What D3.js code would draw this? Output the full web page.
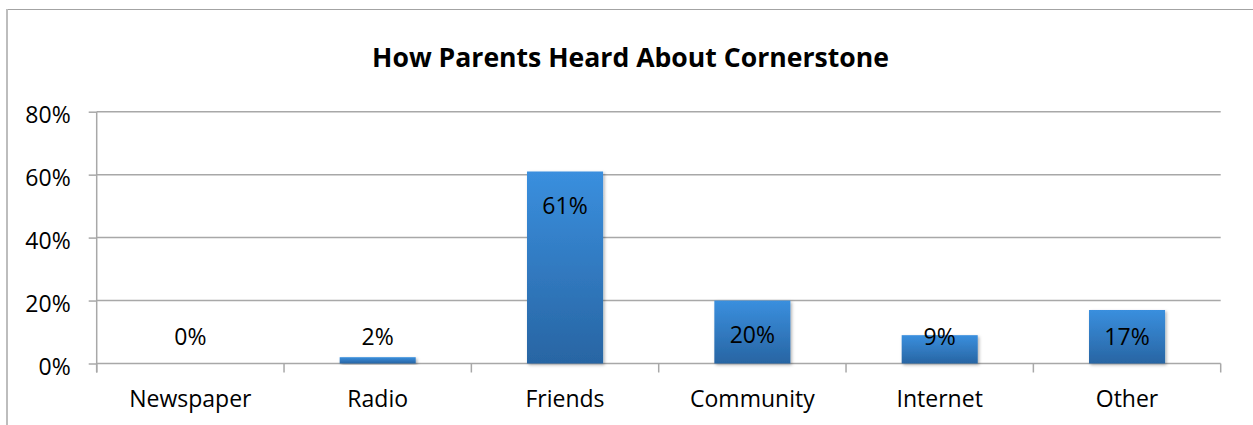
<!DOCTYPE html>
<html>
<head>
<meta charset="utf-8">
<script src="https://cdn.jsdelivr.net/npm/d3@7"></script>
<style>
  html, body { margin: 0; padding: 0; background: #fff; }
  svg { display: block; }
  text { font-family: "Open Sans", Lato, sans-serif; fill: #000; }
</style>
</head>
<body>
<svg id="chart" width="1253" height="425"></svg>
<script>
// Survey answers: how parents first heard about the school
const categories = ["Newspaper", "Radio", "Friends", "Community", "Internet", "Other"];
const shares = [0, 0.02, 0.61, 0.20, 0.09, 0.17];
const yTicks = [0, 0.2, 0.4, 0.6, 0.8];
const title = "How Parents Heard About Cornerstone";

const W = 1253, H = 425;
const plot = { left: 96.7, right: 1220.7, top: 111.7, bottom: 363.5 };
const FONT = "\"Open Sans\", Lato, sans-serif";
const LABEL_SIZE = 23;

const svg = d3.select("#chart");

// chart frame (top and left edges are visible)
svg.append("line").attr("x1", 7).attr("x2", W).attr("y1", 9.5).attr("y2", 9.5)
  .attr("stroke", "#a3a3a3").attr("stroke-width", 1.2);
svg.append("line").attr("x1", 7).attr("x2", 7).attr("y1", 9).attr("y2", H)
  .attr("stroke", "#bdbdbd").attr("stroke-width", 2);

// gradient and soft shadow for the bars
const defs = svg.append("defs");
const grad = defs.append("linearGradient").attr("id", "barFill")
  .attr("x1", 0).attr("y1", 0).attr("x2", 0).attr("y2", 1);
grad.append("stop").attr("offset", "0%").attr("stop-color", "#3a8fde");
grad.append("stop").attr("offset", "100%").attr("stop-color", "#2865a3");
const shadow = defs.append("filter").attr("id", "barShadow")
  .attr("x", "-20%").attr("y", "-20%").attr("width", "140%").attr("height", "140%");
shadow.append("feDropShadow").attr("dx", 1.5).attr("dy", 1.5)
  .attr("stdDeviation", 1.6).attr("flood-color", "#000").attr("flood-opacity", 0.3);

const x = d3.scaleBand().domain(categories)
  .range([plot.left, plot.right])
  .paddingInner(0.594).paddingOuter(0.297);
const y = d3.scaleLinear().domain([0, 0.8]).range([plot.bottom, plot.top]);

// horizontal gridlines
svg.append("g").selectAll("line").data(yTicks).join("line")
  .attr("x1", plot.left).attr("x2", plot.right)
  .attr("y1", d => y(d)).attr("y2", d => y(d))
  .attr("stroke", "#a8a8a8").attr("stroke-width", 1.5);

// y axis
const yAxis = svg.append("g").attr("transform", `translate(${plot.left},0)`)
  .call(d3.axisLeft(y).tickValues(yTicks).tickFormat(d3.format(".0%"))
    .tickSize(8).tickPadding(18));
yAxis.select(".domain").attr("stroke", "#a8a8a8").attr("stroke-width", 1.5)
  .attr("d", `M0,${plot.top}V${plot.bottom + 9}`);
yAxis.selectAll(".tick line").attr("stroke", "#a8a8a8").attr("stroke-width", 1.5);
yAxis.selectAll(".tick text").attr("font-size", LABEL_SIZE).attr("dy", "0.48em")
  .style("font-family", FONT).attr("fill", "#000");

// x axis: boundary ticks between categories
const step = x.step();
const boundaries = d3.range(categories.length + 1).map(i => plot.left + i * step);
svg.append("g").selectAll("line").data(boundaries).join("line")
  .attr("x1", d => d).attr("x2", d => d)
  .attr("y1", plot.bottom).attr("y2", plot.bottom + 9)
  .attr("stroke", "#a8a8a8").attr("stroke-width", 1.5);

svg.append("g").selectAll("text").data(categories).join("text")
  .attr("x", d => x(d) + x.bandwidth() / 2)
  .attr("y", 407)
  .attr("text-anchor", "middle")
  .attr("font-size", LABEL_SIZE)
  .text(d => d);

// bars
svg.append("g").selectAll("rect").data(categories).join("rect")
  .attr("x", d => x(d))
  .attr("width", x.bandwidth())
  .attr("y", (d, i) => y(shares[i]))
  .attr("height", (d, i) => y(0) - y(shares[i]))
  .attr("fill", "url(#barFill)")
  .attr("filter", "url(#barShadow)");

// value labels: inside the top of the bar, kept clear of the baseline
const fmt = d3.format(".0%");
svg.append("g").selectAll("text").data(categories).join("text")
  .attr("x", d => x(d) + x.bandwidth() / 2)
  .attr("y", (d, i) => Math.min(y(shares[i]) + 42, y(0) - 19))
  .attr("text-anchor", "middle")
  .attr("font-size", LABEL_SIZE)
  .text((d, i) => fmt(shares[i]));

// title
svg.append("text").attr("x", 630.5).attr("y", 67)
  .attr("text-anchor", "middle")
  .attr("font-size", 26.6).attr("font-weight", "bold")
  .text(title);
</script>
</body>
</html>
